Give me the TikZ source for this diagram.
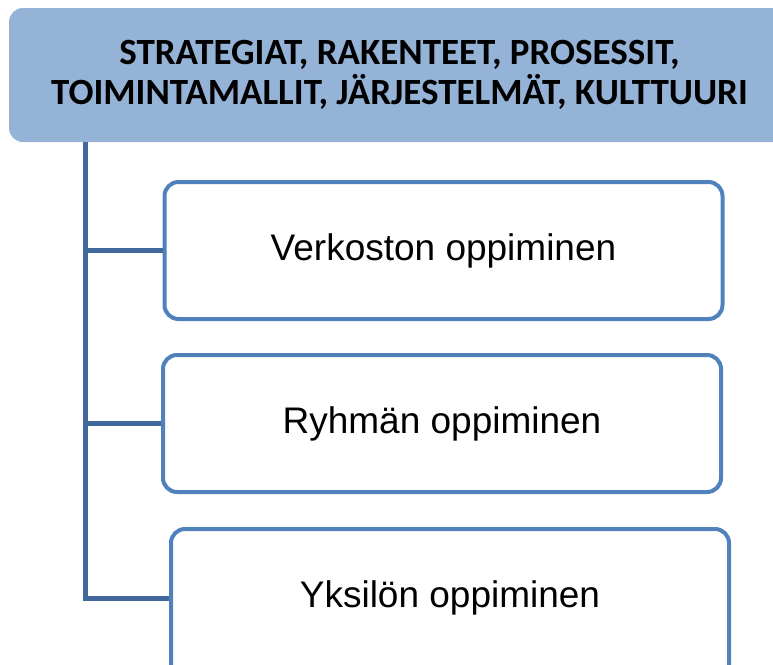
\documentclass[tikz,border=0pt]{standalone}
\usepackage{fontspec}
\setmainfont{Liberation Sans}
\newfontfamily\titlefont{Carlito}
\definecolor{topfill}{HTML}{95B3D7}
\definecolor{boxline}{HTML}{4F81BD}
\definecolor{connline}{HTML}{41689C}
\begin{document}
\begin{tikzpicture}[x=1pt,y=1pt,
  topbox/.style={draw=none,fill=topfill,rounded corners=14pt,minimum width=781pt,minimum height=134pt,inner sep=0pt,align=center,font=\titlefont\bfseries\fontsize{37}{40}\selectfont},
  learnbox/.style={draw=boxline,line width=4pt,fill=white,rounded corners=14pt,minimum width=558pt,minimum height=137pt,inner sep=0pt,font=\fontsize{37}{44}\selectfont},
  conn/.style={draw=connline,line width=5pt}]
\useasboundingbox (0,0) rectangle (773,-664);
\node[topbox] (top) at (399.5,-75) {STRATEGIAT, RAKENTEET, PROSESSIT,\\TOIMINTAMALLIT, JÄRJESTELMÄT, KULTTUURI};
\node[learnbox] (b1) at (443.5,-250.5) {Verkoston oppiminen};
\node[learnbox] (b2) at (442,-423.5) {Ryhmän oppiminen};
\node[learnbox,minimum height=150pt,text depth=0pt] (b3) at (450,-604) {};
\node[font=\fontsize{37}{44}\selectfont] (t3) at (450,-598) {Yksilön oppiminen};
\coordinate (v0) at (85,-142);
\draw[conn] (v0) |- (t3.west -| b3.west);
\draw[conn] (v0 |- b1.west) -- (b1.west);
\draw[conn] (v0 |- b2.west) -- (b2.west);
\end{tikzpicture}
\end{document}
